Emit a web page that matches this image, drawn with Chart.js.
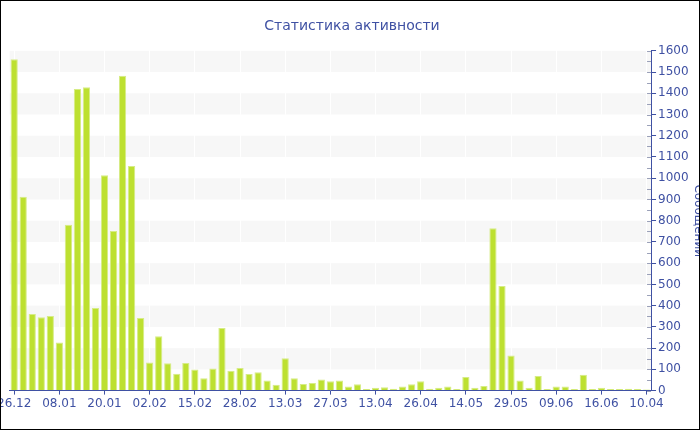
<!DOCTYPE html>
<html>
<head>
<meta charset="utf-8">
<script src="https://cdn.jsdelivr.net/npm/chart.js@4"></script>
<style>
  body { margin: 0; background: #fff; }
  #wrap { position: relative; width: 700px; height: 430px; box-sizing: border-box; border: 1px solid #000; overflow: hidden; }
  #chart { position: absolute; left: -6px; top: 0; }
</style>
</head>
<body>
<div id="wrap"><canvas id="chart" width="714" height="428"></canvas></div>
<script>
// подписи оси X (видны только каждые 5 столбцов)
const shownDates = ['26.12', '08.01', '20.01', '02.02', '15.02', '28.02', '13.03', '27.03',
  '13.04', '26.04', '14.05', '29.05', '09.06', '16.06', '10.04'];

// сообщений за период
const messages = [1560, 913, 361, 345, 351, 227, 781, 1420, 1428, 389,
  1014, 751, 1482, 1057, 342, 132, 256, 129, 79, 130,
  99, 58, 104, 295, 94, 107, 78, 86, 48, 27,
  152, 58, 31, 36, 52, 44, 47, 19, 30, 8,
  13, 16, 9, 19, 30, 44, 9, 13, 19, 8,
  64, 14, 22, 765, 493, 165, 47, 14, 69, 8,
  19, 19, 8, 75, 7, 13, 7, 7, 9, 7, 5];

const labels = messages.map((v, i) => i % 5 === 0 ? shownDates[i / 5] : '');

const blue = '#3f51a3';

// серые полосы фона через каждые 100 + мелкие деления на оси
const bands = {
  id: 'bands',
  beforeDraw(chart) {
    const ctx = chart.ctx, a = chart.chartArea, y = chart.scales.y;
    ctx.save();
    ctx.fillStyle = '#f7f7f7';
    for (let v = 100; v < 1600; v += 200) {
      const top = y.getPixelForValue(v + 100), bot = y.getPixelForValue(v);
      ctx.fillRect(a.left, top, a.right - a.left, bot - top);
    }
    ctx.restore();
  },
  afterDraw(chart) {
    const ctx = chart.ctx, y = chart.scales.y, x0 = chart.chartArea.right;
    ctx.save();
    ctx.strokeStyle = '#9aa0b8';
    ctx.lineWidth = 1;
    for (let v = 0; v <= 1600; v += 50) {
      const py = Math.round(y.getPixelForValue(v)) + 0.5;
      ctx.beginPath();
      ctx.moveTo(x0 - 4, py);
      ctx.lineTo(x0, py);
      ctx.stroke();
    }
    ctx.restore();
  }
};

new Chart(document.getElementById('chart').getContext('2d'), {
  type: 'bar',
  data: {
    labels: labels,
    datasets: [{
      label: 'Сообщений',
      data: messages,
      backgroundColor: '#bde030',
      borderColor: '#d6ec86',
      borderWidth: 1,
      barPercentage: 0.8,
      categoryPercentage: 1
    }]
  },
  options: {
    responsive: false,
    animation: false,
    layout: { padding: { left: 0, right: 0, top: 0, bottom: 16 } },
    plugins: {
      legend: { display: false },
      tooltip: { enabled: false },
      title: {
        display: true,
        text: 'Статистика активности',
        color: blue,
        font: { family: 'DejaVu Sans', size: 14, weight: 'normal' },
        padding: { top: 17, bottom: 16 }
      }
    },
    scales: {
      x: {
        border: { color: blue, width: 1 },
        grid: {
          offset: false,
          color: ctx => labels[ctx.index] ? 'rgba(255,255,255,0.9)' : 'rgba(0,0,0,0)',
          tickColor: ctx => labels[ctx.index] ? blue : 'rgba(0,0,0,0)',
          tickLength: 4
        },
        ticks: {
          autoSkip: false,
          maxRotation: 0,
          padding: 2,
          color: blue,
          font: { family: 'DejaVu Sans', size: 12 }
        }
      },
      y: {
        position: 'right',
        min: 0,
        max: 1600,
        border: { color: blue, width: 1 },
        grid: { drawOnChartArea: false, tickColor: blue, tickLength: 5 },
        ticks: {
          stepSize: 100,
          padding: 2,
          color: blue,
          font: { family: 'DejaVu Sans', size: 12 },
          callback: value => String(value)
        },
        title: {
          display: true,
          text: 'Сообщений',
          color: blue,
          font: { family: 'DejaVu Sans', size: 12 },
          padding: { top: 4, bottom: 0 }
        }
      }
    }
  },
  plugins: [bands]
});
</script>
</body>
</html>
